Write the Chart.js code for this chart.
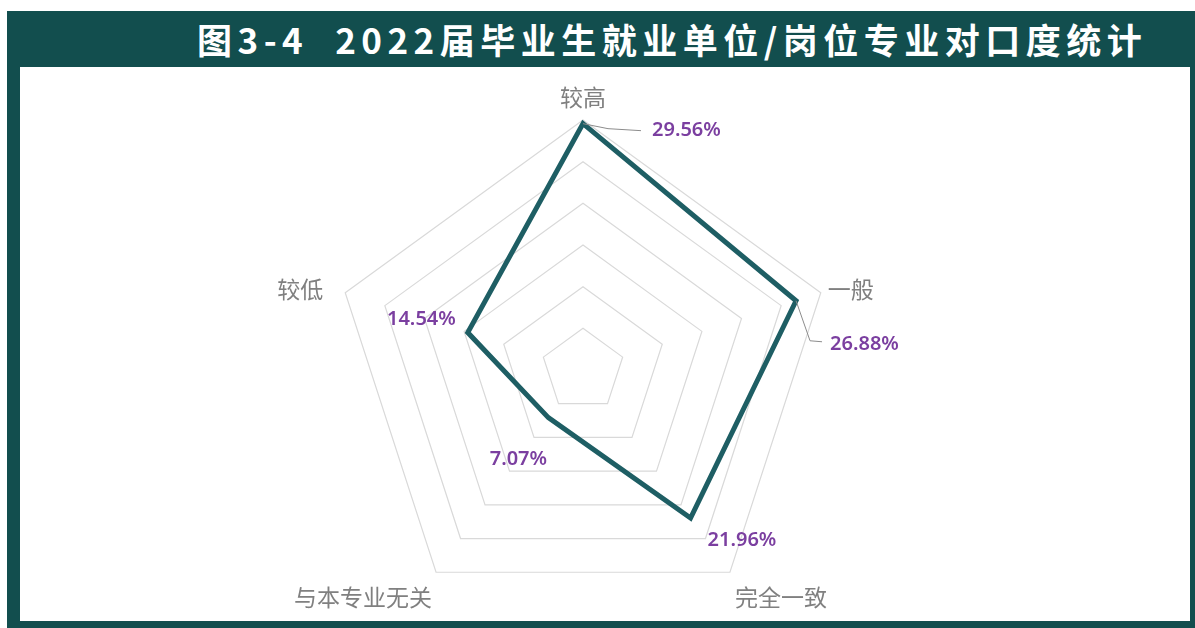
<!DOCTYPE html>
<html>
<head>
<meta charset="utf-8">
<script src="https://cdn.jsdelivr.net/npm/chart.js@4/dist/chart.umd.min.js"></script>
<style>
    html, body { margin: 0; padding: 0; background: #ffffff; }
    #wrap { position: relative; width: 1195px; height: 628px; overflow: hidden; }
    #frame { position: absolute; left: 7px; top: 11px; width: 1188px; height: 617px; background: #124e4e; }
    #inner { position: absolute; left: 20px; top: 67px; width: 1170px; height: 554px; background: #ffffff; }
    #title {
        position: absolute; left: 197px; top: 14px; height: 50px; line-height: 50px;
        color: #ffffff; font-family: "Noto Sans CJK SC", sans-serif; font-weight: bold;
        font-size: 35px; letter-spacing: 5.5px; white-space: nowrap;
    }
    #radarChart { position: absolute; left: 0; top: 0; }
</style>
</head>
<body>
<div id="wrap">
    <div id="frame"></div>
    <div id="inner"></div>
    <div id="title">图3-4&nbsp;&nbsp;2022届毕业生就业单位/岗位专业对口度统计</div>
    <canvas id="radarChart" width="1195" height="628"></canvas>
</div>
<script>
// chart data
const categories = ['较高', '一般', '完全一致', '与本专业无关', '较低'];
const values = [29.56, 26.88, 21.96, 7.07, 14.54];
const valueLabels = ['29.56%', '26.88%', '21.96%', '7.07%', '14.54%'];
const scaleMax = 30;
const scaleStep = 5;

// label placement offsets (relative to the outer vertex / data point)
const catOffsets = [
    { dx: 0, dy: -23, align: 'center' },
    { dx: 7, dy: -3, align: 'left' },
    { dx: 5, dy: 25, align: 'left' },
    { dx: -4, dy: 25, align: 'right' },
    { dx: -22, dy: -3, align: 'right' }
];
const valOffsets = [
    { dx: 69, dy: 7, align: 'left', leader: [[25, 5], [58, 7]] },
    { dx: 34, dy: 44, align: 'left', leader: [[14, 40], [26, 41]] },
    { dx: 17, dy: 22, align: 'left', leader: null },
    { dx: -30, dy: 42, align: 'center', leader: null },
    { dx: -12, dy: -13, align: 'right', leader: null }
];

const labelPlugin = {
    id: 'radarLabels',
    afterDatasetsDraw(chart) {
        const ctx = chart.ctx;
        const scale = chart.scales.r;
        ctx.save();
        ctx.textBaseline = 'middle';

        // category labels outside the outer ring
        ctx.font = '23px "Noto Sans CJK SC"';
        ctx.fillStyle = '#808080';
        categories.forEach((c, i) => {
            const p = scale.getPointPositionForValue(i, scaleMax);
            const o = catOffsets[i];
            ctx.textAlign = o.align;
            ctx.fillText(c, p.x + o.dx, p.y + o.dy);
        });

        // value labels with leader lines
        ctx.font = '600 20px "Noto Sans"';
        values.forEach((v, i) => {
            const p = scale.getPointPositionForValue(i, v);
            const o = valOffsets[i];
            if (o.leader) {
                ctx.strokeStyle = '#8c8c8c';
                ctx.lineWidth = 1;
                ctx.beginPath();
                ctx.moveTo(p.x, p.y);
                o.leader.forEach(pt => ctx.lineTo(p.x + pt[0], p.y + pt[1]));
                ctx.stroke();
            }
            ctx.fillStyle = '#7b3fa0';
            ctx.textAlign = o.align;
            ctx.fillText(valueLabels[i], p.x + o.dx, p.y + o.dy);
        });
        ctx.restore();
    }
};

const ctx = document.getElementById('radarChart').getContext('2d');
new Chart(ctx, {
    type: 'radar',
    data: {
        labels: categories,
        datasets: [{
            data: values,
            borderColor: '#1e5e64',
            borderWidth: 5,
            fill: false,
            pointRadius: 0,
            pointHoverRadius: 0,
            tension: 0
        }]
    },
    options: {
        responsive: false,
        animation: false,
        layout: { padding: { left: 183, right: 212, top: 120, bottom: 8 } },
        scales: {
            r: {
                min: 0,
                max: scaleMax,
                ticks: { display: false, stepSize: scaleStep },
                angleLines: { display: false },
                grid: { color: '#d9d9d9', lineWidth: 1.2 },
                pointLabels: { display: false }
            }
        },
        plugins: {
            legend: { display: false },
            tooltip: { enabled: false }
        }
    },
    plugins: [labelPlugin]
});
</script>
</body>
</html>
